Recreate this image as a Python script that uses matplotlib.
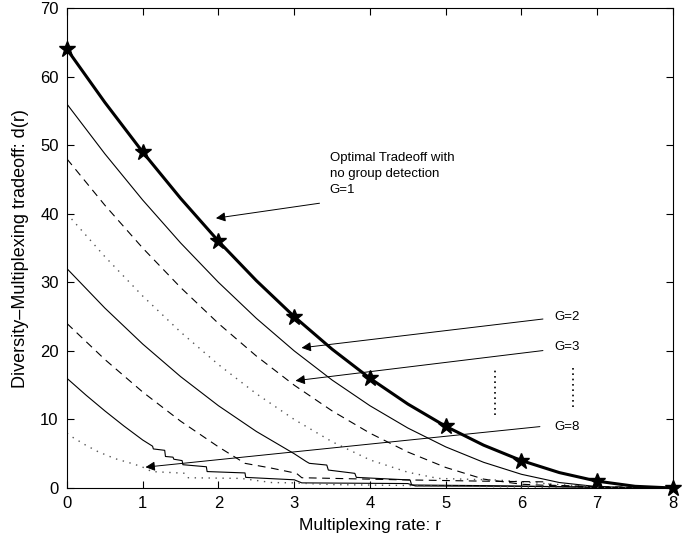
import matplotlib
matplotlib.use('Agg')
import matplotlib.pyplot as plt

# optimal tradeoff, G=1 (stars at integer rates)
r_opt = [0, 0.5, 1, 1.5, 2, 2.5, 3, 3.5, 4, 4.5, 5, 5.5, 6, 6.5, 7, 7.5, 8]
d_opt = [64, 56.25, 49, 42.25, 36, 30.25, 25, 20.25, 16, 12.25, 9, 6.25, 4, 2.25, 1, 0.25, 0]
r_star = [0, 1, 2, 3, 4, 5, 6, 7, 8]
d_star = [64, 49, 36, 25, 16, 9, 4, 1, 0]

# group detection curves
r_g2 = [0, 0.5, 1, 1.5, 2, 2.5, 3, 3.5, 4, 4.5, 5, 5.5, 6, 6.5, 7, 7.5, 8]
d_g2 = [56, 48.75, 42, 35.75, 30, 24.75, 20, 15.75, 12, 8.75, 6, 3.75, 2, 0.8, 0.2, 0.05, 0]

r_g3 = [0, 0.5, 1, 1.5, 2, 2.5, 3, 3.5, 4, 4.5, 5, 5.5, 6, 6.5, 7, 8]
d_g3 = [48, 41.25, 35, 29.25, 24, 19.25, 15, 11.25, 8, 5.25, 3, 1.3, 0.55, 0.3, 0.15, 0]

r_g4 = [0, 0.5, 1, 1.5, 2, 2.5, 3, 3.5, 4, 4.5, 4.9, 5.7, 6, 6.5, 7, 8]
d_g4 = [40, 33.75, 28, 22.75, 18, 13.75, 10, 6.75, 4.1, 2.3, 1.4, 1.15, 0.9, 0.5, 0.2, 0]

r_g5 = [0, 0.5, 1, 1.5, 2, 2.5, 3, 3.16, 3.2, 3.43, 3.45, 3.8, 3.82, 4.53, 4.55, 5.5, 6.5, 7, 8]
d_g5 = [32, 26.25, 21, 16.25, 12, 8.25, 5, 3.85, 3.6, 3.35, 2.62, 2.14, 1.55, 1.17, 0.44, 0.35, 0.2, 0.1, 0]

r_g6 = [0, 0.5, 1, 1.5, 2, 2.35, 2.7, 3.03, 3.1, 4.4, 5.5, 6.3, 6.4, 7, 8]
d_g6 = [24, 18.75, 14, 9.75, 6, 3.6, 2.9, 2.14, 1.5, 1.2, 1.0, 0.9, 0.4, 0.2, 0]

r_g7 = [0, 0.25, 0.5, 0.75, 1, 1.13, 1.14, 1.29, 1.3, 1.4, 1.41, 1.52, 1.53, 1.84, 1.85,
        2.35, 2.36, 3.0, 3.1, 4.5, 4.6, 6, 7, 8]
d_g7 = [16, 13.56, 11.25, 9.06, 7, 6.1, 5.7, 5.5, 4.6, 4.5, 4.2, 4.0, 3.4, 3.1, 2.4,
        2.2, 1.55, 1.2, 0.75, 0.65, 0.3, 0.25, 0.1, 0]

r_g8 = [0, 0.06, 0.24, 0.41, 0.63, 0.85, 0.99, 1.12, 1.56, 1.6, 2.3, 2.7, 3.0, 3.5, 5, 6, 7, 8]
d_g8 = [8, 7.5, 6.3, 5.3, 4.3, 3.6, 3.1, 2.4, 2.15, 1.5, 1.4, 0.8, 0.75, 0.5, 0.3, 0.15, 0.05, 0]

plt.rcParams['font.family'] = ['Liberation Sans', 'DejaVu Sans']

fig = plt.figure(figsize=(6.92, 5.42), dpi=100)
ax = fig.add_axes([0.0968, 0.0996, 0.8757, 0.8854])

solid = '-'
dash = (0, (7, 5))
dot = (0, (1, 4))

ax.plot(r_g2, d_g2, color='black', lw=0.8, linestyle=solid)
ax.plot(r_g3, d_g3, color='black', lw=0.8, linestyle=dash)
ax.plot(r_g4, d_g4, color='#555555', lw=1.0, linestyle=dot)
ax.plot(r_g5, d_g5, color='black', lw=0.8, linestyle=solid)
ax.plot(r_g6, d_g6, color='black', lw=0.8, linestyle=dash)
ax.plot(r_g7, d_g7, color='black', lw=0.8, linestyle=solid)
ax.plot(r_g8, d_g8, color='#555555', lw=1.0, linestyle=dot)

ax.plot(r_opt, d_opt, color='black', lw=2.2)
ax.plot(r_star, d_star, linestyle='none', marker='*', color='black',
        markersize=12, clip_on=False, zorder=5)

# annotations
arrow = dict(arrowstyle='-|>', color='black', lw=0.7, mutation_scale=14)
ax.annotate('', xy=(1.93, 39.3), xytext=(3.37, 41.6), arrowprops=arrow)
ax.text(3.47, 49.0, 'Optimal Tradeoff with\nno group detection\nG=1', fontsize=9.5,
        ha='left', va='top', linespacing=1.45)
ax.annotate('', xy=(3.06, 20.4), xytext=(6.32, 24.7), arrowprops=arrow)
ax.annotate('', xy=(2.98, 15.6), xytext=(6.32, 20.1), arrowprops=arrow)
ax.annotate('', xy=(1.0, 3.0), xytext=(6.28, 9.0), arrowprops=arrow)
ax.text(6.44, 24.9, 'G=2', fontsize=9.5, va='center')
ax.text(6.44, 20.5, 'G=3', fontsize=9.5, va='center')
ax.text(6.44, 8.9, 'G=8', fontsize=9.5, va='center')

ax.plot([5.65, 5.65], [10.6, 17.2], color='black', lw=1.2, linestyle=(0, (1, 2.2)))
ax.plot([6.68, 6.68], [11.8, 17.5], color='black', lw=1.2, linestyle=(0, (1, 2.2)))

ax.set_xlim(0, 8)
ax.set_ylim(0, 70)
ax.set_xticks(range(0, 9))
ax.set_yticks(range(0, 71, 10))
ax.tick_params(direction='in', top=True, right=True, labelsize=12, length=5)
ax.tick_params(axis='x', pad=6)
ax.tick_params(axis='y', pad=6)
ax.set_xlabel('Multiplexing rate: r', fontsize=12.5, labelpad=5)
ax.set_ylabel('Diversity\u2013Multiplexing tradeoff: d(r)', fontsize=13, labelpad=8)

fig.savefig('out.png', dpi=100)
